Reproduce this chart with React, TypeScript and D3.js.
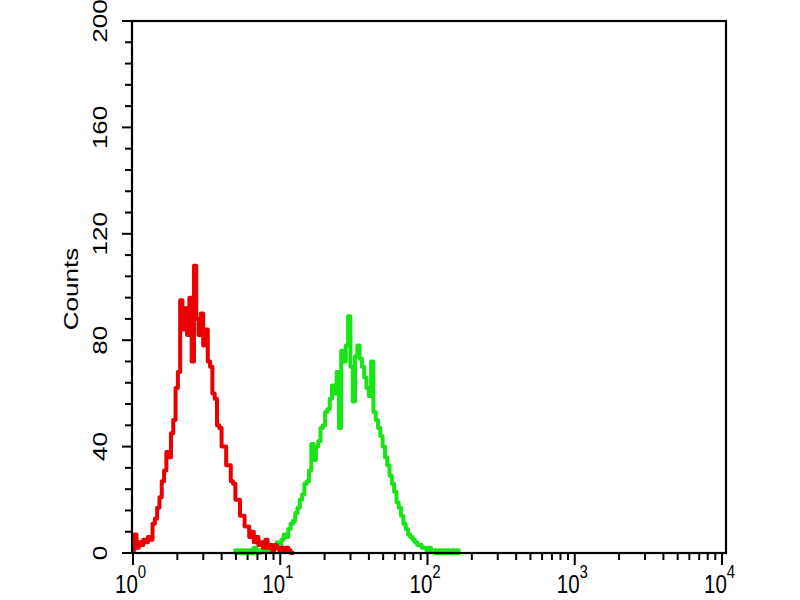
import React from "react";
import * as d3 from "d3";

// Histogram channels: 64 channels per decade on a log axis 10^0..10^4
const binsPerDecade = 64;
const redStartBin = 0;
const redCounts = [
  1, 7, 2, 4, 3, 5, 4, 6, 5, 11, 13, 17, 21, 27, 31, 38, 36, 45, 50, 62,
  68, 95, 84, 92, 82, 96, 72, 108, 88, 82, 90, 78, 84, 72, 70, 60, 58, 48, 47, 40,
  40, 33, 33, 27, 26, 20, 20, 14, 14, 10, 10, 6, 8, 4, 6, 3, 4, 2, 5, 2,
  3, 1, 3, 2, 1, 2, 1, 2, 1, 0, 0,
];
const greenStartBin = 44;
const greenCounts = [
  0, 1, 0, 1, 0, 1, 0, 1, 0, 2, 1, 0, 1, 2, 1, 2, 1, 3, 2, 4, 3,
  5, 7, 6, 9, 11, 12, 15, 17, 20, 22, 26, 27, 31,
  41, 35, 40, 42, 47, 48, 53, 54, 58, 63, 60, 68,
  47, 76, 72, 78, 89, 70, 57, 74, 78, 73, 70, 66, 62, 59, 72,
  53, 50, 47, 44, 40, 36, 33, 29, 26, 23, 19, 17, 14, 11, 9, 7, 6, 5, 4, 3,
  3, 2, 2, 1, 2, 1, 1, 0, 1, 0, 1, 0, 1, 0, 1, 0, 1, 0,
];
const yTickValues = [0, 40, 80, 120, 160, 200];
const yMinorStep = 8;
const xDecades = [0, 1, 2, 3, 4];
const yAxisTitle = "Counts";

const W = 800;
const H = 600;
const left = 132;
const right = 726;
const top = 21;
const bottom = 553;
const FS = 20.5;
const SY = 1.27;
const FONT = "Liberation Sans, Arial, sans-serif";

export default function App() {
  const x = d3.scaleLog().domain([1, 1e4]).range([133, 722]);
  const y = d3.scaleLinear().domain([0, 200]).range([bottom, top]);

  const mkLine = (start: number) =>
    d3
      .line<number>()
      .x((_, i) => x(Math.pow(10, (start + i) / binsPerDecade)))
      .y((d) => y(d))
      .curve(d3.curveStep);

  const yMinor = d3.range(0, 201, yMinorStep);
  const xMinor: number[] = [];
  for (let dcd = 0; dcd < 4; dcd++) {
    for (let k = 2; k <= 9; k++) xMinor.push(k * Math.pow(10, dcd));
  }

  return (
    <svg
      width={W}
      height={H}
      style={{ position: "absolute", left: 0, top: 0, background: "#fff" }}
    >
      <rect x={0} y={0} width={W} height={H} fill="#fff" />
      <path
        d={mkLine(greenStartBin)(greenCounts) || ""}
        fill="none"
        stroke="#18e418"
        strokeWidth={4}
        strokeLinejoin="round"
      />
      <path
        d={mkLine(redStartBin)(redCounts) || ""}
        fill="none"
        stroke="#ea0000"
        strokeWidth={4}
        strokeLinejoin="round"
      />
      <rect
        x={left}
        y={top}
        width={right - left}
        height={bottom - top}
        fill="none"
        stroke="#000"
        strokeWidth={2.2}
      />
      {/* Y ticks */}
      {yMinor.map((v) => (
        <line
          key={"ym" + v}
          x1={left - (v % 40 === 0 ? 10 : 7)}
          x2={left}
          y1={y(v)}
          y2={y(v)}
          stroke="#000"
          strokeWidth={2}
        />
      ))}
      {yTickValues.map((v) => (
        <g key={"yl" + v} transform={`translate(107,${y(v)}) scale(1,${SY}) rotate(-90)`}>
          <text x={0} y={0} textAnchor="middle" fontFamily={FONT} fontSize={FS} fill="#000">
            {v}
          </text>
        </g>
      ))}
      {/* X ticks */}
      {xMinor.map((v) => (
        <line
          key={"xm" + v}
          x1={x(v)}
          x2={x(v)}
          y1={bottom}
          y2={bottom + 7}
          stroke="#000"
          strokeWidth={2}
        />
      ))}
      {xDecades.map((d) => (
        <line
          key={"xM" + d}
          x1={x(Math.pow(10, d))}
          x2={x(Math.pow(10, d))}
          y1={bottom}
          y2={bottom + 12}
          stroke="#000"
          strokeWidth={2}
        />
      ))}
      {xDecades.map((d) => (
        <g key={"xl" + d} transform={`translate(${x(Math.pow(10, d))},593) scale(1,${SY})`}>
          <text x={-18} y={0} fontFamily={FONT} fontSize={FS} fill="#000">
            10
            <tspan dy={-11.5} fontSize={15}>
              {d}
            </tspan>
          </text>
        </g>
      ))}
      <g transform={`translate(78,289) scale(1,${SY}) rotate(-90)`}>
        <text x={0} y={0} textAnchor="middle" fontFamily={FONT} fontSize={FS} fill="#000">
          {yAxisTitle}
        </text>
      </g>
    </svg>
  );
}
